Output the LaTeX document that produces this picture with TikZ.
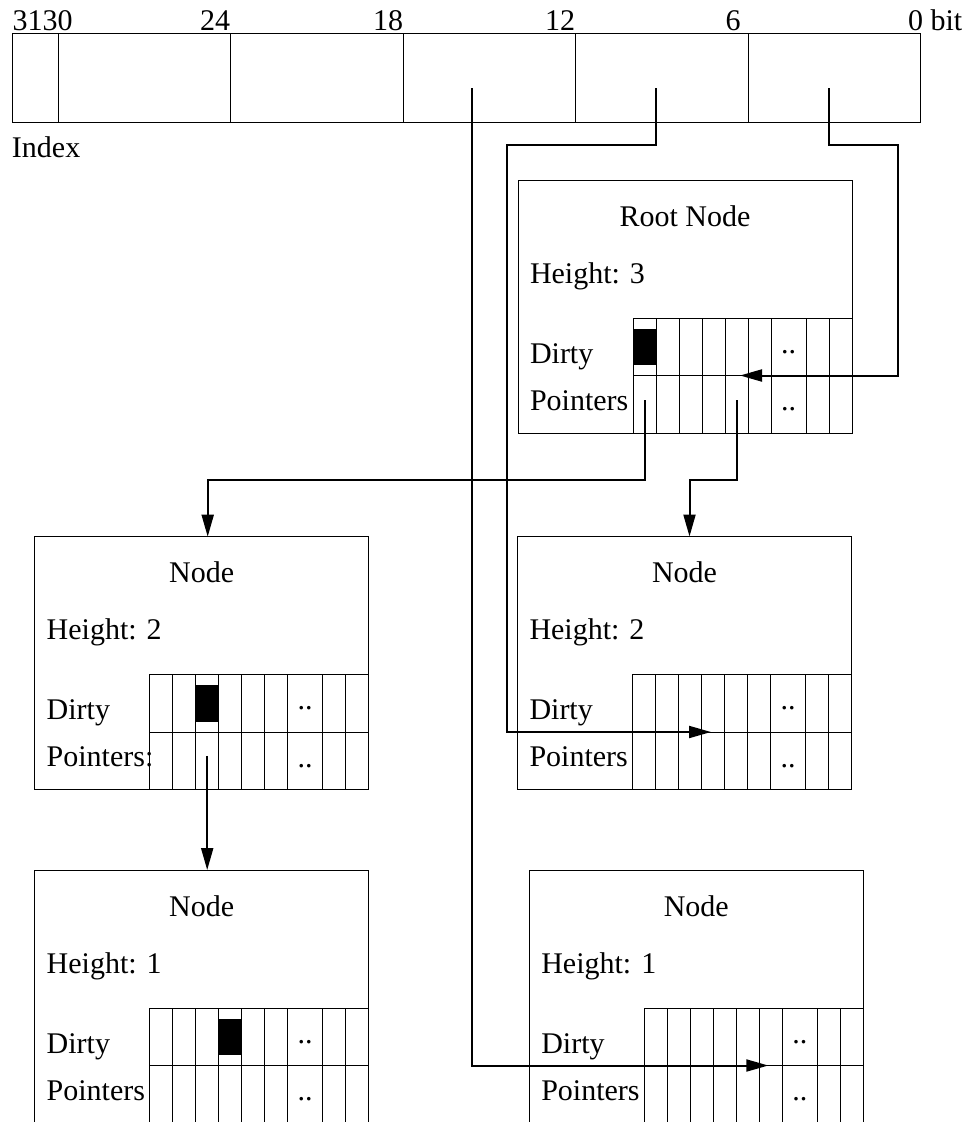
\documentclass[tikz,border=0pt]{standalone}
\usepackage{fontspec}
\setmainfont{Liberation Serif}
\usetikzlibrary{arrows.meta}
\begin{document}
\begin{tikzpicture}[x=1pt,y=-1pt,
  every node/.style={inner sep=0pt,outer sep=0pt,font=\fontsize{30}{36}\selectfont},
  frame/.style={draw,line width=1pt,anchor=north west},
  cellbox/.style={draw,line width=0.9pt,anchor=north west,minimum height=57.5pt},
  link/.style={line width=2pt},
  tip/.style={-{Triangle[length=22pt,width=12pt]}},
  pics/treenode/.style n args={4}{code={
    % outer frame of a tree node
    \node[frame,minimum width=334pt,minimum height=253pt] (-box) at (0,0) {};
    \node[anchor=base] (-title) at (167,46) {#1};
    \node[anchor=base west] (-height) at (12,103) {#2};
    \node[anchor=base west] (-dirty) at (12,183) {Dirty};
    \node[anchor=base west] (-ptrs) at (12,230) {#3};
    % two rows of slots: dirty bits and child pointers
    \foreach \i/\x/\w in {1/0/23,2/23/23,3/46/23,4/69/23,5/92/23,6/115/23,7/138/35,8/173/23,9/196/23}{
      \node[cellbox,minimum width=\w pt] (-d\i) at (115+\x,138) {};
      \node[cellbox,minimum width=\w pt] (-p\i) at (115+\x,195.5) {};
    }
    \node (-ddots) at (270.5,171.75) {..};
    \node (-pdots) at (270.5,229.25) {..};
    % marked dirty slot
    \ifnum#4>0
      \fill (115+23*#4-23,148.5) rectangle (115+23*#4,185);
    \fi
  }}
]
\useasboundingbox (0,0) rectangle (970,1122);
\clip (0,0) rectangle (970,1122);

% 32-bit index word
\node[frame,minimum width=46pt,minimum height=89pt]  (b3130) at (12,33) {};
\node[frame,minimum width=172pt,minimum height=89pt] (b2924) at (58,33) {};
\node[frame,minimum width=173pt,minimum height=89pt] (b2318) at (230,33) {};
\node[frame,minimum width=172pt,minimum height=89pt] (b1712) at (403,33) {};
\node[frame,minimum width=173pt,minimum height=89pt] (b1106) at (575,33) {};
\node[frame,minimum width=172pt,minimum height=89pt] (b0500) at (748,33) {};

\node[anchor=base west] (l31) at (12.7,30) {3130};
\node[anchor=base] (l24) at (215,30) {24};
\node[anchor=base] (l18) at (388,30) {18};
\node[anchor=base] (l12) at (560,30) {12};
\node[anchor=base] (l6) at (733,30) {6};
\node[anchor=base west] (l0) at (908,30) {0 bit};
\node[anchor=base west] (idx) at (12,157) {Index};

% tree nodes
\pic (root) at (518,180)   {treenode={Root Node}{Height: 3}{Pointers}{1}};
\pic (l2)   at (34.7,536.7) {treenode={Node}{Height: 2}{Pointers:}{3}};
\pic (r2)   at (517.5,536.5) {treenode={Node}{Height: 2}{Pointers}{0}};
\pic (l1)   at (34.7,870)  {treenode={Node}{Height: 1}{Pointers}{4}};
\pic (r1)   at (529.3,870) {treenode={Node}{Height: 1}{Pointers}{0}};

% index fields selecting slots
\coordinate (srcA) at (472,88);
\coordinate (srcB) at (656.3,88);
\coordinate (jogB) at (506.5,145);
\coordinate (srcC) at (828.7,88);
\coordinate (jogC) at (897.7,145);

\draw[link,tip] (srcA) |- ([xshift=-2.5pt]r1-p6.north);
\draw[link,tip] (srcB) |- (jogB) |- ([xshift=-2pt]r2-p4.north);
\draw[link,tip] (srcC) |- (jogC) |- ([xshift=3.5pt]root-p5.north);

% child pointers
\draw[link,tip] ([yshift=4pt]root-p1.center) -- ++(0,80) -| ([xshift=6pt]l2-box.north);
\draw[link,tip] ([yshift=4pt]root-p5.center) -- ++(0,80) -| ([xshift=5pt]r2-box.north);
\draw[link,tip] ([yshift=5pt]l2-p3.center) -- (l2-p3.center |- l1-box.north);
\end{tikzpicture}
\end{document}
